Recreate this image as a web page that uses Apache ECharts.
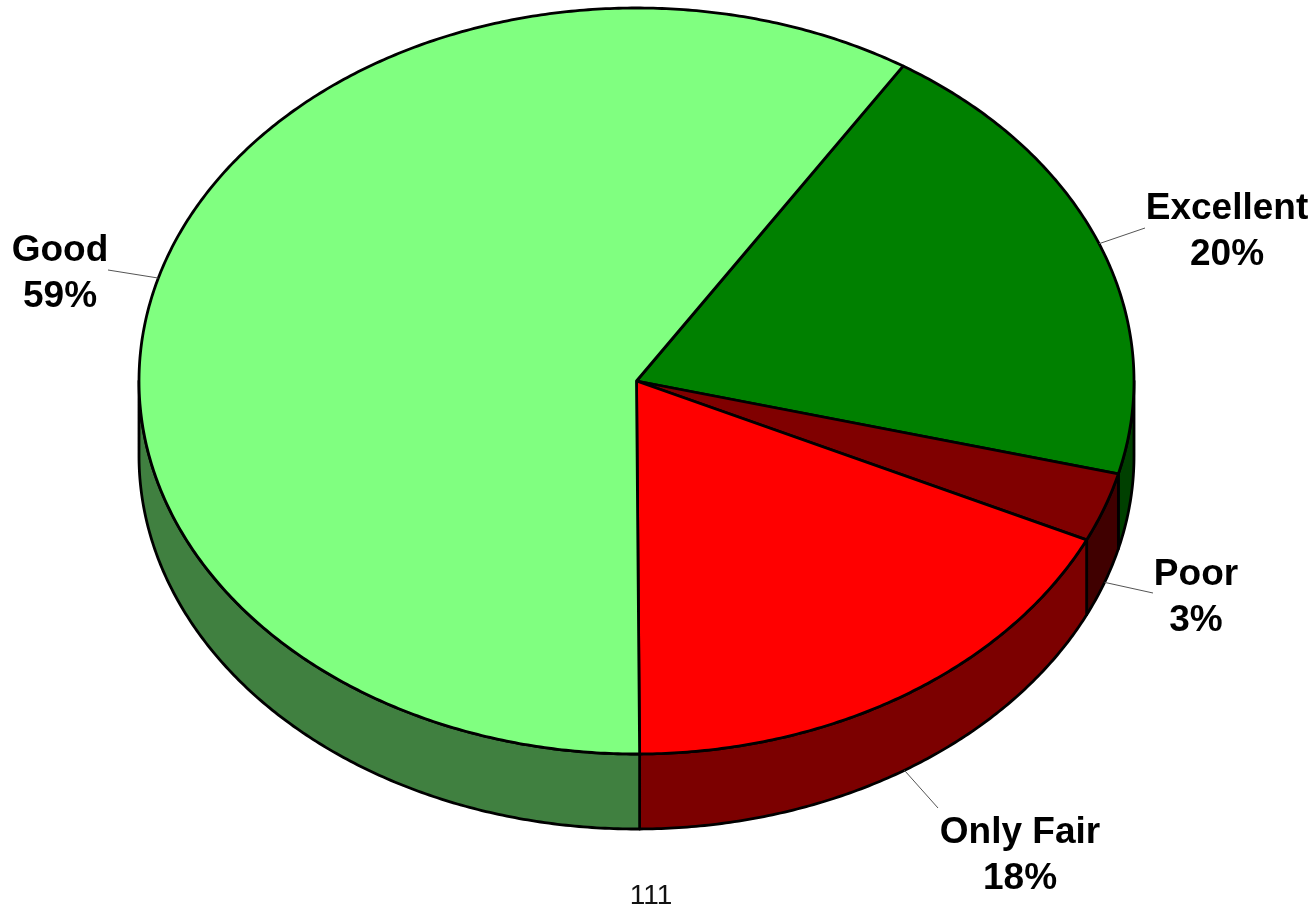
<!DOCTYPE html>
<html>
<head>
<meta charset="utf-8">
<style>html,body{margin:0;padding:0;background:#fff}#c{width:1316px;height:908px}</style>
<script src="https://cdn.jsdelivr.net/npm/echarts@6/dist/echarts.min.js"></script>
</head>
<body>
<div id="c"></div>
<script>
var categories = ['Excellent', 'Poor', 'Only Fair', 'Good'];
var values = [20, 3, 17.9, 59.1];
var topColors = ['#008000', '#800000', '#ff0000', '#80ff80'];
var sideColors = ['#004000', '#400000', '#7c0000', '#408040'];
var labelAnchors = [[1227, 232], [1196, 598], [1020, 856], [60, 274]];
var leaderEnds = [[1145, 228], [1153, 593], [938, 808], [108, 270]];
var footerText = '111';

var CX = 636.5, CY = 381, RX = 497.5, RY = 373, DEPTH = 75, START = 32.4;
var total = values.reduce(function (a, b) { return a + b; }, 0);
var starts = [];
values.reduce(function (acc, v, i) { starts[i] = acc; return acc + v / total * 360; }, START);

function pt(api, deg, drop) {
  var r = deg * Math.PI / 180;
  return api.coord([CX + RX * Math.sin(r), CY - RY * Math.cos(r) + (drop || 0)]);
}
function arc(api, a, b, drop) {
  var out = [], n = Math.max(2, Math.ceil(Math.abs(b - a) / 0.5));
  for (var i = 0; i <= n; i++) out.push(pt(api, a + (b - a) * i / n, drop));
  return out;
}
function range(i, api) {
  var a = starts[i];
  return [a, a + api.value(1) / total * 360];
}
function renderSide(params, api) {
  var i = params.dataIndex, r = range(i, api);
  var a = Math.max(r[0], 90), b = Math.min(r[1], 270);
  if (b <= a) return { type: 'group', children: [] };
  var points = arc(api, a, b, 0).concat(arc(api, b, a, DEPTH));
  return { type: 'polygon', shape: { points: points },
    style: { fill: sideColors[i], stroke: '#000', lineWidth: 2.8, lineJoin: 'round' } };
}
function renderTop(params, api) {
  var i = params.dataIndex, r = range(i, api);
  var points = [api.coord([CX, CY])].concat(arc(api, r[0], r[1], 0));
  return { type: 'polygon', shape: { points: points },
    style: { fill: topColors[i], stroke: '#000', lineWidth: 2.8, lineJoin: 'round' } };
}
function renderLabel(params, api) {
  var i = params.dataIndex, r = range(i, api);
  var mid = (r[0] + r[1]) / 2;
  var m = ((mid % 360) + 360) % 360;
  var from = pt(api, mid, (m > 90 && m < 270) ? DEPTH : 0);
  var to = api.coord(leaderEnds[i]);
  var at = api.coord(labelAnchors[i]);
  return { type: 'group', children: [
    { type: 'line', shape: { x1: from[0], y1: from[1], x2: to[0], y2: to[1] },
      style: { stroke: '#555', lineWidth: 1 } },
    { type: 'text', x: at[0], y: at[1],
      style: { text: categories[i] + '\n' + Math.round(api.value(1)) + '%', align: 'center', verticalAlign: 'middle',
        font: 'bold 37px "Liberation Sans", Arial, sans-serif', lineHeight: 46, fill: '#000' } }
  ] };
}
var seriesData = values.map(function (v, i) { return { name: categories[i], value: [i, v] }; });
var chart = echarts.init(document.getElementById('c'), null, { renderer: 'canvas' });
chart.setOption({
  animation: false,
  backgroundColor: '#fff',
  grid: { left: 0, right: 0, top: 0, bottom: 0 },
  xAxis: { type: 'value', min: 0, max: 1316, show: false },
  yAxis: { type: 'value', min: 0, max: 908, inverse: true, show: false },
  title: { text: footerText, left: 651, top: 882, textAlign: 'center', padding: 0,
    textStyle: { fontFamily: '"Liberation Sans", Arial, sans-serif', fontSize: 28, fontWeight: 'normal', color: '#111' } },
  series: [
    { type: 'custom', renderItem: renderSide, data: seriesData, silent: true, clip: false, z: 1 },
    { type: 'custom', renderItem: renderTop, data: seriesData, silent: true, clip: false, z: 2 },
    { type: 'custom', renderItem: renderLabel, data: seriesData, silent: true, clip: false, z: 3 }
  ]
});
</script>
</body>
</html>
